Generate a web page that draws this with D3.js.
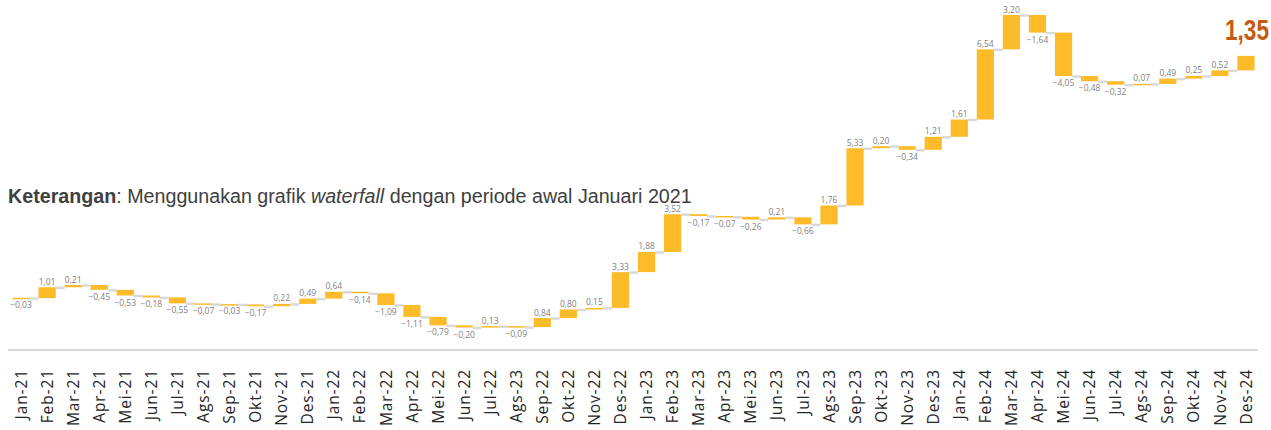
<!DOCTYPE html>
<html>
<head>
<meta charset="utf-8">
<script src="https://cdn.jsdelivr.net/npm/d3@7"></script>
<style>
  body { margin: 0; background: #fff; }
  svg { display: block; }
</style>
</head>
<body>
<svg id="chart" width="1271" height="430"></svg>
<script>
// month labels (Ags-23 in slot 20 is as printed in the source)
var months = ["Jan-21","Feb-21","Mar-21","Apr-21","Mei-21","Jun-21","Jul-21","Ags-21","Sep-21","Okt-21","Nov-21","Des-21",
  "Jan-22","Feb-22","Mar-22","Apr-22","Mei-22","Jun-22","Jul-22","Ags-23","Sep-22","Okt-22","Nov-22","Des-22",
  "Jan-23","Feb-23","Mar-23","Apr-23","Mei-23","Jun-23","Jul-23","Ags-23","Sep-23","Okt-23","Nov-23","Des-23",
  "Jan-24","Feb-24","Mar-24","Apr-24","Mei-24","Jun-24","Jul-24","Ags-24","Sep-24","Okt-24","Nov-24","Des-24"];
// monthly change
var changes = [-0.03,1.01,0.21,-0.45,-0.53,-0.18,-0.55,-0.07,-0.03,-0.17,0.22,0.49,
  0.64,-0.14,-1.09,-1.11,-0.79,-0.20,0.13,-0.09,0.84,0.80,0.15,3.33,
  1.88,3.52,-0.17,-0.07,-0.26,0.21,-0.66,1.76,5.33,0.20,-0.34,1.21,
  1.61,6.54,3.20,-1.64,-4.05,-0.48,-0.32,0.07,0.49,0.25,0.52,1.35];

var svg = d3.select("#chart");
var fmt = function(v) { return d3.format(".2f")(v).replace(".", ","); };

// running totals
var rows = [];
var run = 0;
for (var i = 0; i < changes.length; i++) {
  var start = run;
  run = run + changes[i];
  rows.push({idx: i, month: months[i], v: changes[i], start: start, end: run, last: i === changes.length - 1});
}

var x = d3.scaleBand()
  .domain(rows.map(function(d) { return d.idx; }))
  .range([8, 1259])
  .paddingInner(0.34)
  .paddingOuter(0.17);

var lo = d3.min(rows, function(d) { return Math.min(d.start, d.end); });
var hi = d3.max(rows, function(d) { return Math.max(d.start, d.end); });
var y = d3.scaleLinear().domain([lo, hi]).range([327.5, 15]);

// connectors
svg.append("g").selectAll("line")
  .data(rows.slice(0, -1)).enter()
  .append("line")
  .attr("x1", function(d) { return x(d.idx) + x.bandwidth(); })
  .attr("x2", function(d) { return x(d.idx + 1); })
  .attr("y1", function(d) { return y(d.end) + 0.5; })
  .attr("y2", function(d) { return y(d.end) + 0.5; })
  .attr("stroke", "#d9d9d9")
  .attr("stroke-width", 2.5);

// bars
svg.append("g").selectAll("rect")
  .data(rows).enter()
  .append("rect")
  .attr("x", function(d) { return x(d.idx); })
  .attr("width", x.bandwidth())
  .attr("y", function(d) { return y(Math.max(d.start, d.end)); })
  .attr("height", function(d) { return Math.max(1.5, Math.abs(y(d.start) - y(d.end))); })
  .attr("fill", "#fdbb2a");

// value labels
svg.append("g").selectAll("text")
  .data(rows.filter(function(d) { return !d.last; })).enter()
  .append("text")
  .attr("x", function(d) { return x(d.idx) + x.bandwidth() / 2; })
  .attr("y", function(d) { return d.v >= 0 ? y(d.end) - 2.5 : y(d.end) + 10; })
  .attr("text-anchor", "middle")
  .attr("font-family", "'Open Sans', sans-serif")
  .attr("font-size", 8.5)
  .attr("fill", "#7f7f7f")
  .text(function(d) { return fmt(d.v); });

// squeeze a text horizontally to a target width (no narrow font installed)
function squeeze(sel, x0, y0, width, anchorEnd) {
  var w = sel.node().getComputedTextLength();
  var s = width / w;
  var tx = anchorEnd ? x0 - width : x0;
  sel.attr("transform", "translate(" + tx + "," + y0 + ") scale(" + s + ",1)");
}

// highlighted final value
var lastRow = rows[rows.length - 1];
var big = svg.append("text")
  .attr("font-family", "'Liberation Sans', Arial, sans-serif")
  .attr("font-weight", "bold")
  .attr("font-size", 30)
  .attr("fill", "#c55a11")
  .text(fmt(lastRow.v));
squeeze(big, 1269, 40, 44, true);

// axis line
svg.append("line")
  .attr("x1", 8).attr("x2", 1258)
  .attr("y1", 350).attr("y2", 350)
  .attr("stroke", "#d9d9d9")
  .attr("stroke-width", 2);

// month labels
svg.append("g").selectAll("text")
  .data(rows).enter()
  .append("text")
  .attr("transform", function(d) {
    return "translate(" + (x(d.idx) + x.bandwidth() / 2) + ",369) rotate(-90)";
  })
  .attr("dy", "0.36em")
  .attr("text-anchor", "end")
  .attr("font-family", "'Open Sans', sans-serif")
  .attr("font-size", 15.5)
  .attr("letter-spacing", 0.9)
  .attr("fill", "#252525")
  .text(function(d) { return d.month; });

// note
var note = svg.append("text")
  .attr("font-family", "'Liberation Sans', Arial, sans-serif")
  .attr("font-size", 21)
  .attr("fill", "#404040");
note.append("tspan").attr("font-weight", "bold").text("Keterangan");
note.append("tspan").text(": Menggunakan grafik ");
note.append("tspan").attr("font-style", "italic").text("waterfall");
note.append("tspan").text(" dengan periode awal Januari 2021");
squeeze(note, 8, 203, 684, false);
</script>
</body>
</html>
